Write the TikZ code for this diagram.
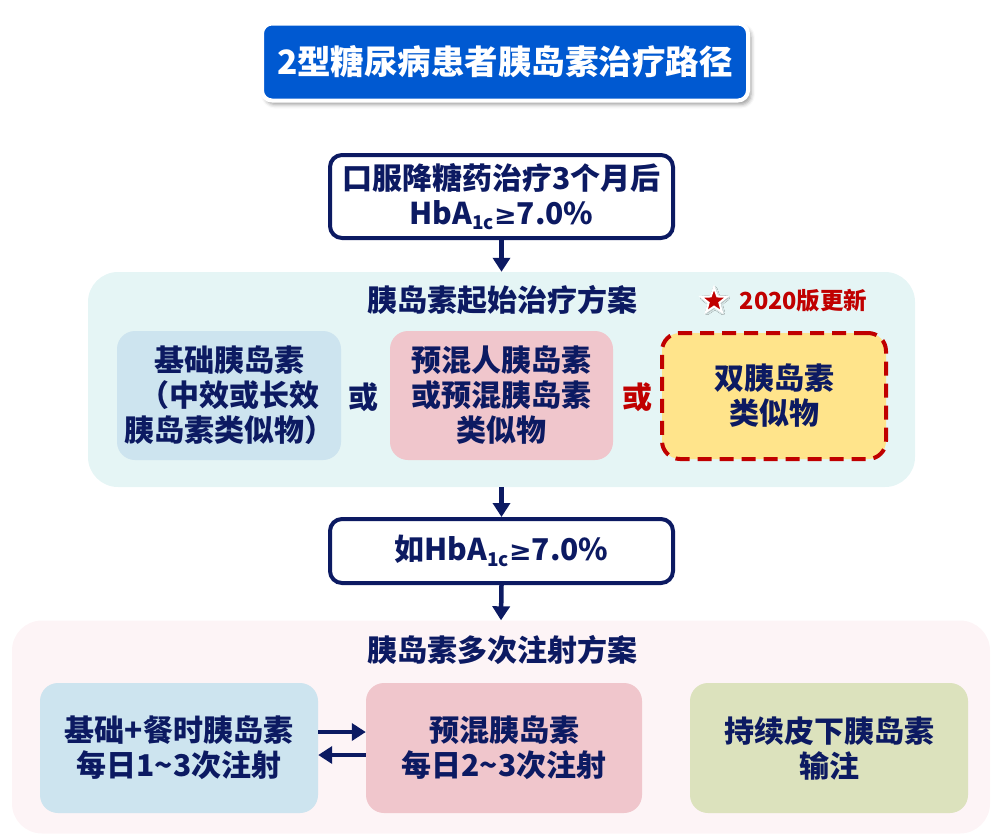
\documentclass[tikz,border=0pt]{standalone}
\usepackage{fontspec}
\setmainfont{Noto Sans CJK SC}
\newfontfamily\symfont{DejaVu Sans}
\usepackage{tikz}
\usetikzlibrary{shapes.geometric, arrows.meta, positioning, calc, shadows.blur}
\definecolor{dmnavy}{HTML}{0C1A62}
\definecolor{dmblue}{HTML}{0059D1}
\definecolor{dmred}{HTML}{C00000}
\definecolor{panelcyan}{HTML}{E5F5F5}
\definecolor{panelpink}{HTML}{FDF4F6}
\definecolor{boxblue}{HTML}{CDE4EF}
\definecolor{boxpink}{HTML}{F0C6CC}
\definecolor{boxyellow}{HTML}{FFE48B}
\definecolor{boxgreen}{HTML}{DCE2BD}
\newcommand{\hbaone}{HbA\raisebox{-0.35ex}{\fontsize{19}{19}\selectfont 1c}{\symfont\fontsize{27}{30}\selectfont ≥}7.0\%}

\begin{document}
\begin{tikzpicture}[
  x=1pt, y=-1pt,
  txt/.style={font=\bfseries\fontsize{30}{35}\selectfont, text=dmnavy, align=center},
  panel/.style={rectangle, rounded corners=30pt, fill=#1, draw=none},
  stepbox/.style={rectangle, rounded corners=12pt, draw=dmnavy, line width=4pt, fill=white, minimum width=343pt, txt},
  optbox/.style={rectangle, rounded corners=18pt, fill=#1, draw=none, minimum height=129pt, txt},
  arrow/.style={-{Triangle[length=14pt,width=17pt]}, line width=4.5pt, color=dmnavy},
  heading/.style={txt}
]
  \useasboundingbox (0,0) rectangle (1003,836);

  % Title
  \node[rectangle, rounded corners=10pt, fill=dmblue, draw=white, line width=4pt,
        minimum width=486pt, minimum height=77pt, text=white,
        font=\bfseries\fontsize{33.5}{38}\selectfont,
        blur shadow={shadow xshift=3pt, shadow yshift=-4pt, shadow blur radius=4pt}]
        (title) at (505,62) {2型糖尿病患者胰岛素治疗路径};

  % Start
  \node[stepbox, minimum height=83pt] (start) at (501.5,196.5)
        {口服降糖药治疗3个月后\\\hbaone};

  % Initial insulin panel
  \node[panel=panelcyan, minimum width=827pt, minimum height=215pt] (initpanel) at (501.5,379.5) {};
  \node[heading] (inithead) at (502,300) {胰岛素起始治疗方案};
  \node[star, star points=5, star point ratio=2.4, minimum size=27pt, inner sep=0pt,
        fill=dmred, draw=white, line width=2pt,
        blur shadow={shadow xshift=1pt, shadow yshift=-1pt, shadow blur radius=2pt}] (star) at (714,301) {};
  \node[font=\bfseries\fontsize{23.5}{27}\selectfont, text=dmred, right=13pt of star] (update) {2020版更新};

  \node[optbox=boxblue, minimum width=224pt] (basal) at (229,395.5)
        {基础胰岛素\\（中效或长效\\胰岛素类似物）};
  \node[txt] (or1) at (363,397) {或};
  \node[optbox=boxpink, minimum width=223pt] (premix) at (501.5,395.5)
        {预混人胰岛素\\或预混胰岛素\\类似物};
  \node[txt, text=dmred] (or2) at (637,397) {或};
  \node[optbox=boxyellow, minimum width=224pt, minimum height=126pt,
        draw=dmred, line width=4pt, dash pattern=on 14pt off 8pt] (dual) at (774,396)
        {双胰岛素\\类似物};

  % Check
  \node[stepbox, minimum height=64pt] (check) at (501.5,551)
        {如\hbaone};

  % Multiple injection panel
  \node[panel=panelpink, minimum width=978pt, minimum height=213pt] (multipanel) at (501,727) {};
  \node[heading] (multihead) at (502,650) {胰岛素多次注射方案};

  \node[optbox=boxblue, minimum width=278pt, minimum height=130pt] (bolus) at (179,748)
        {基础+餐时胰岛素\\每日1\textasciitilde 3次注射};
  \node[optbox=boxpink, minimum width=276pt, minimum height=130pt] (mixinj) at (504,748)
        {预混胰岛素\\每日2\textasciitilde 3次注射};
  \node[optbox=boxgreen, minimum width=278pt, minimum height=130pt] (pump) at (829,748)
        {持续皮下胰岛素\\输注};

  % Arrows
  \draw[arrow] (start.south) -- (initpanel.north);
  \draw[arrow] (initpanel.south) -- (check.north);
  \draw[arrow] (check.south) -- (multipanel.north);
  \draw[arrow] ([yshift=16pt]bolus.east) -- ([yshift=16pt]mixinj.west);
  \draw[arrow] ([yshift=-7pt]mixinj.west) -- ([yshift=-7pt]bolus.east);
\end{tikzpicture}
\end{document}
